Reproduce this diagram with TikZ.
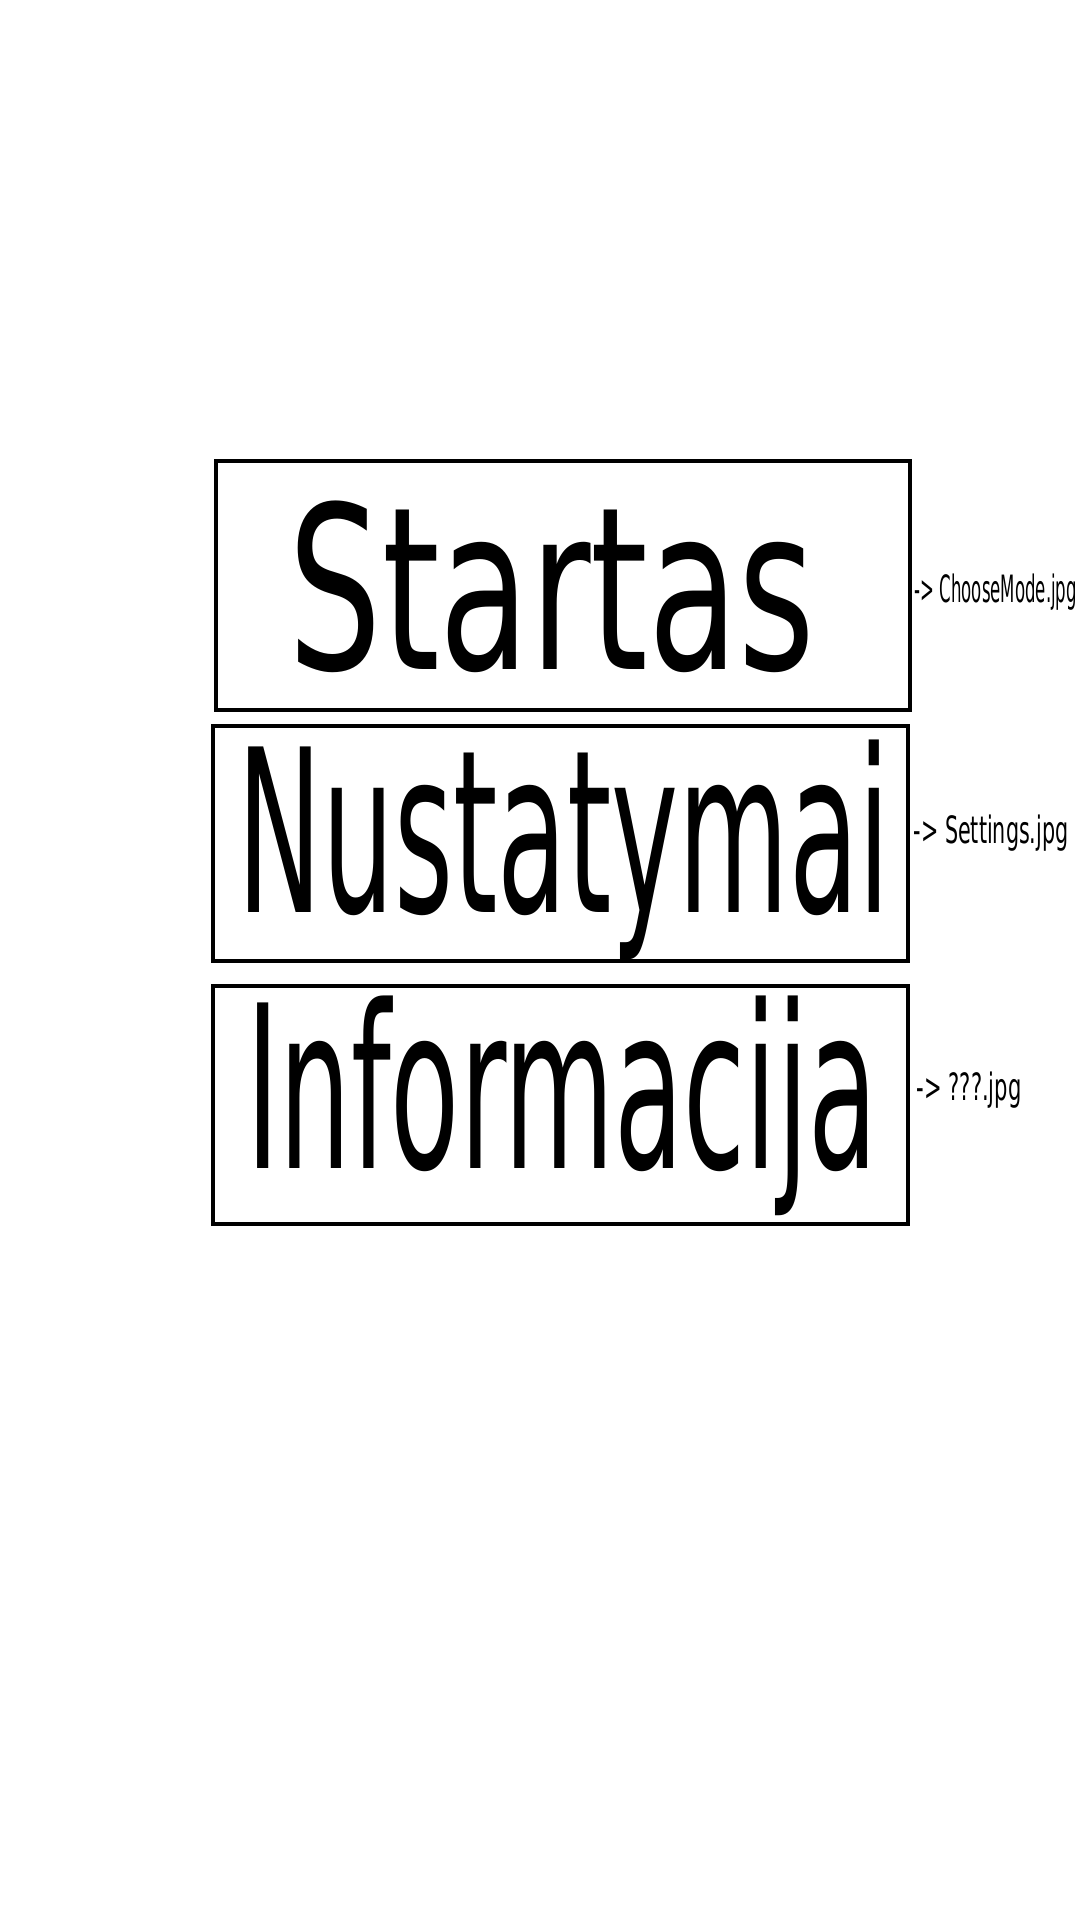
\documentclass[tikz,border=0pt]{standalone}
\usepackage{graphicx}
\usepackage{fontspec}
\setmainfont{DejaVu Sans}

\begin{document}
\begin{tikzpicture}[x=0.01cm,y=-0.01cm,
    menu/.style={draw,line width=1.1pt,minimum width=6.94cm,inner sep=0pt},
    big/.style={anchor=base,inner sep=0pt,font=\fontsize{64.6}{70}\selectfont},
    link/.style={anchor=base west,inner sep=0pt,font=\fontsize{10.7}{12}\selectfont}]
   \useasboundingbox (0,0) rectangle (1080,1920);
   \node[menu,minimum height=2.49cm] (m_1) at (563,585.5) {};
   \node[menu,minimum height=2.35cm] (m_2) at (560.5,843.5) {};
   \node[menu,minimum height=2.38cm] (m_3) at (560.5,1105) {};
   \node[big] (t_1) at (552,669)  {\scalebox{0.648}[1]{Startas}};
   \node[big] (t_2) at (564,912)  {\scalebox{0.499}[1]{Nustatymai}};
   \node[big] (t_3) at (562,1168) {\scalebox{0.497}[1]{Informacija}};
   \node[link] (l_1) at (914,602)  {\scalebox{0.44}[1]{-> ChooseMode.jpg}};
   \node[link] (l_2) at (913,843)  {\scalebox{0.55}[1]{-> Settings.jpg}};
   \node[link] (l_3) at (916,1100) {\scalebox{0.56}[1]{-> ???.jpg}};
\end{tikzpicture}
\end{document}
